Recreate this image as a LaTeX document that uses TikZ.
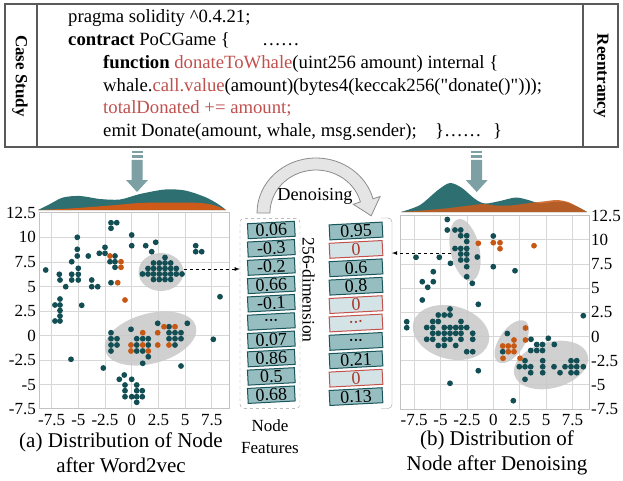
\documentclass[tikz,border=0pt]{standalone}
\usepackage{fontspec}
\setmainfont{Liberation Serif}
\newfontfamily\plainserif{Liberation Serif}[Ligatures=TeXOff]
\usetikzlibrary{positioning,shapes.geometric}

\definecolor{tealdot}{RGB}{18,78,84}
\definecolor{orangedot}{RGB}{198,88,20}
\definecolor{tealarea}{RGB}{46,112,114}
\definecolor{orangearea}{RGB}{205,90,25}
\definecolor{cellfill}{RGB}{150,190,192}
\definecolor{cellline}{RGB}{25,85,90}
\definecolor{zerofill}{RGB}{212,227,230}
\definecolor{zeroline}{RGB}{196,82,76}
\definecolor{zerotext}{RGB}{165,55,45}
\definecolor{codered}{RGB}{192,80,77}
\definecolor{gridgray}{RGB}{215,215,215}
\definecolor{framegray}{RGB}{195,195,195}
\definecolor{blobgray}{RGB}{200,200,200}
\definecolor{arrowgray}{RGB}{125,160,165}

\newcommand{\celldots}{{\fontsize{9}{9}\selectfont\textbullet\,\textbullet\,\textbullet}}

\tikzset{
  codetxt/.style={anchor=base west, inner sep=0, font=\fontsize{18.7}{22}\selectfont},
  sidetxt/.style={rotate=-90, inner sep=0, font=\fontsize{17}{20}\selectfont\bfseries},
  tick/.style={inner sep=0, font=\fontsize{17}{20}\selectfont},
  captxt/.style={align=center, inner sep=0, font=\fontsize{21}{25}\selectfont},
  cell/.style={draw=cellline, fill=cellfill, line width=1pt, minimum width=47pt,
    minimum height=15pt, inner sep=0, rotate=3, font=\fontsize{18}{18}\selectfont},
  zero/.style={cell, draw=zeroline, fill=zerofill, text=zerotext},
  blob/.style={ellipse, fill=blobgray, fill opacity=.85, inner sep=0},
  dashy/.style={->, dashed, thick},
  gridline/.style={draw=gridgray, line width=.8pt}
}

\begin{document}
\begin{tikzpicture}[x=1pt, y=-1pt, >=latex]
\useasboundingbox (0,0) rectangle (623,481);

% code box
\draw[black!65, line width=1.2pt] (5,4) rectangle (618,147);
\draw[black!65, line width=1.2pt] (37,4) -- (37,147) (583,4) -- (583,147);
\node[sidetxt] (cs) at (20,76) {Case Study};
\node[sidetxt] (re) at (601,76) {Reentrancy};
\node[codetxt] (c1) at (68,23) {pragma solidity \textasciicircum 0.4.21;};
\node[codetxt] (c2) at (68,45.7) {\textbf{contract} PoCGame \{};
\node[codetxt] (c2b) at (262,45.7) {……};
\node[codetxt] (c3) at (103,68.4) {\textbf{function} \textcolor{codered}{donateToWhale}(uint256 amount) internal \{};
\node[codetxt] (c4) at (103,91.1) {whale.\textcolor{codered}{call.value}(amount)(bytes4(keccak256({\plainserif"}donate(){\plainserif"})));};
\node[codetxt] (c5) at (103,113.8) {\textcolor{codered}{totalDonated += amount;}};
\node[codetxt] (c6) at (103,136.5) {emit Donate(amount, whale, msg.sender);};
\node[codetxt] (c6b) at (435,136.5) {\}……};
\node[codetxt] (c6c) at (493,136.5) {\}};

% block arrows
\foreach \ax in {137,476.7} {
  \fill[arrowgray] (\ax-5.5,151.5) rectangle (\ax+5.5,153.2);
  \fill[arrowgray] (\ax-5.5,155) rectangle (\ax+5.5,158);
  \fill[arrowgray] (\ax-5.5,160) -- (\ax+5.5,160) -- (\ax+5.5,180) -- (\ax+11,180)
    -- (\ax,192) -- (\ax-11,180) -- (\ax-5.5,180) -- cycle;
}

% densities
\fill[tealarea] plot[smooth] coordinates {(38,210) (50,204) (63,197.5) (80,196) (100,199)
  (120,199.5) (140,194) (165,189.5) (185,190.5) (205,197) (218,204) (226,210)} -- cycle;
\fill[orangearea] plot[smooth] coordinates {(38,210) (70,208.5) (110,205.5) (140,203)
  (170,202.5) (200,203) (215,205.5) (226,210)} -- cycle;
\fill[tealarea] plot[smooth] coordinates {(401,212) (420,205) (438,190) (450,183) (462,188)
  (475,199) (485,203.5) (500,201) (516,197.5) (530,200.5) (540,203.5) (552,202) (565,202)
  (578,207) (587,212)} -- cycle;
\fill[orangearea, fill opacity=.85] plot[smooth] coordinates {(401,212) (440,209) (470,205.5)
  (484,204) (495,205.5) (510,205.5) (530,203) (547,201) (557,200) (568,202) (578,207)
  (587,212)} -- cycle;

% left plot
\foreach \v in {-7.5,-5,-2.5,0,2.5,5,7.5}
  \draw[gridline] ({131.7+10.67*\v},212) -- ({131.7+10.67*\v},408.5);
\foreach \v in {-5,-2.5,0,2.5,5,7.5,10}
  \draw[gridline] (39,{335.7-9.83*\v}) -- (229,{335.7-9.83*\v});
\draw[framegray, line width=.8pt] (39,212) rectangle (229,408.5);
\foreach \v [count=\i] in {-7.5,-5,-2.5,0,2.5,5,7.5}
  \node[tick] (lx\i) at ({131.7+10.67*\v},420) {\v};
\foreach \v [count=\i] in {-7.5,-5,-2.5,0,2.5,5,7.5,10,12.5}
  \node[tick, anchor=east] (ly\i) at (36,{335.7-9.83*\v}) {\v};

\node[blob, minimum width=45pt, minimum height=38pt] (ca) at (161,272) {};
\node[blob, minimum width=94pt, minimum height=50pt, rotate=15] (cb) at (150.5,338.5) {};

\foreach \x/\y in {45.7/270, 59.3/274.3, 60/280, 65.7/286.7, 60/299, 55/305, 60/305, 60/310.5,
  60/316, 55/321, 60/321, 77.3/237.3, 77.3/249.3, 77.3/256, 71.7/261.7, 78.3/268.3, 71.7/274.3,
  78.3/274.3, 71.7/280, 78.3/280, 71/359.3, 81.7/305.3, 88.3/256, 91.7/280, 91.7/286.7,
  97.7/286.7, 99.3/253.3, 105/253.3, 105/247.3, 103.3/368, 111/222.7, 116.7/222.7, 111/228.3,
  115/256, 110/261.7, 115/261.7, 115/267.3, 111/282.7, 131.7/235, 131.7/245.7, 145.7/245.7,
  151.7/251.7, 155.7/242.3, 195.7/245.7, 195.7/251.7, 201.7/251.7, 220/296.7, 213.3/339.3,
  165/257.5, 153.5/263, 159.3/263, 165/263, 170.7/263, 148/268.5, 153.5/268.5, 159.3/268.5,
  165/268.5, 170.7/268.5, 176.3/268.5, 142.5/274, 148/274, 153.5/274, 159.3/274, 165/274,
  170.7/274, 176.3/274, 182/274, 153.5/279.5, 159.3/279.5, 165/279.5, 170.7/279.5,
  157.7/323.3, 169/326.7, 187.3/323.3, 131/329.3, 169/332.7, 175/332.7, 181/332.7, 111/332.7,
  111/338.7, 117/338.7, 136.7/338.7, 142.7/338.7, 148.3/338.7, 169/338.7, 175/338.7, 181/338.7,
  111/345, 117/345, 136.7/345, 148.3/345, 175/345, 111/351, 136.7/351, 142.7/351, 148.3/356.7,
  142.7/363.3, 181/366, 119.3/379.3, 124.3/375, 131.7/379.3, 125/385, 136.7/385, 125/390.7,
  136.7/390.7, 142.3/390.7, 125/396.7, 131.7/396.7, 136.7/396.7, 142.3/396.7, 136.7/402.3}
  \fill[tealdot] (\x,\y) circle (2.9);
\foreach \x/\y in {110/256, 121/261.7, 121/267.3, 117.7/282.7, 125/300, 164/326.7, 175/326.7,
  142.7/332.7, 157.7/332.7, 131/345, 142.7/345, 157.7/345, 169/345, 131/351, 148.3/351}
  \fill[orangedot] (\x,\y) circle (2.9);

% right plot
\foreach \v in {-7.5,-5,-2.5,0,2.5,5,7.5}
  \draw[gridline] ({493.3+10.56*\v},215) -- ({493.3+10.56*\v},409);
\foreach \v in {-5,-2.5,0,2.5,5,7.5,10}
  \draw[gridline] (400,{336.5-9.67*\v}) -- (589,{336.5-9.67*\v});
\draw[framegray, line width=.8pt] (400,215) rectangle (589,409);
\foreach \v [count=\i] in {-7.5,-5,-2.5,0,2.5,5,7.5}
  \node[tick] (rx\i) at ({493.3+10.56*\v},420) {\v};
\foreach \v [count=\i] in {-7.5,-5,-2.5,0,2.5,5,7.5,10,12.5}
  \node[tick, anchor=west] (ry\i) at (591,{336.5-9.67*\v}) {\v};

\node[blob, minimum width=29pt, minimum height=63pt, rotate=12] (cc) at (465,250) {};
\node[blob, minimum width=78pt, minimum height=53pt, rotate=-15] (cd) at (451,332.5) {};
\node[blob, minimum width=49pt, minimum height=25pt, rotate=56] (ce) at (511.7,341.7) {};
\node[blob, minimum width=76pt, minimum height=46pt, rotate=15] (cf) at (551,365) {};

\foreach \x/\y in {447.3/219.5, 447.3/230, 455/230, 460.7/230, 460.7/235.7, 466.7/235.7,
  466.7/241.5, 455/248.5, 460.7/248.5, 466.7/248.5, 460.7/254, 466.7/254, 477.3/257, 460.7/260,
  466.7/260, 450.5/263.3, 466.7/266.7, 466.7/276.7, 472.3/283.3,
  416/257.3, 439.3/257.3, 433.3/271.7, 422.3/281.7, 433.3/281.7, 427.7/287.3, 422.3/300,
  450/383.3, 478.3/370.7, 493.3/236, 493.3/266.7, 515/270.7, 583.3/315.7, 513.3/400.7,
  478.3/304.3, 406.7/321.7, 406.7/327.7,
  450/309, 438.3/315, 444.3/315, 450/315, 432.7/321.5, 438.3/321.5, 461/321.5,
  426.7/327.5, 432.7/327.5, 444.3/327.5, 450/327.5, 455.7/327.5, 461/327.5, 466.7/327.5,
  432.7/333.3, 438.3/333.3, 444.3/333.3, 450/333.3, 455.7/333.3, 461/333.3, 472.7/333.3,
  426.7/339.3, 432.7/339.3, 444.3/339.3, 450/339.3, 461/339.3, 472.7/339.3,
  438.3/345.5, 444.3/345.5, 455.7/345.5, 466.7/351.7, 472.7/351.7,
  507.3/333.5, 502.7/351.7,
  531/339.3, 548.3/338.3, 536.7/344.5, 542.5/344.5, 554.3/344.5, 530.7/350.5, 536.7/350.5,
  542.5/350.5, 525/360.7, 542.7/360.7, 571/360.7, 576.7/360.7,
  519.3/366.7, 525/366.7, 530.7/366.7, 542.7/366.7, 554/366.7, 565/366.7, 571/366.7,
  576.7/366.7, 583.3/366.7, 530.7/372.7, 542.7/372.7, 560/372.7, 571/372.7, 576.7/372.7,
  525/379.3}
  \fill[tealdot] (\x,\y) circle (2.9);
\foreach \x/\y in {478.3/243.3, 493.3/242.7, 500/242.7, 500/248.7, 534/245.7, 525.5/328,
  514/340, 525.5/340, 502.7/346, 508.3/346, 514/346, 508.3/351.7, 514/351.7, 503/358.3,
  520/358.3}
  \fill[orangedot] (\x,\y) circle (2.9);

% feature vectors
\node[draw=black!40, dashed, rounded corners=4pt, minimum width=60pt, minimum height=190pt,
  inner sep=0] (lfeat) at (270,313.3) {};
\foreach \v [count=\i] in {0.06,-0.3,-0.2,0.66,-0.1,\celldots,0.07,0.86,0.5,0.68}
  \node[cell] (L\i) at (271.3,{230+18.3*(\i-1)}) {\v};
\draw[black!40, rounded corners=4pt] (381,218) -- (392,218) -- (392,408.5) -- (381,408.5);
\coordinate (rfeat) at (392,249);
\foreach \v/\s [count=\i] in {0.95/cell, 0/zero, 0.6/cell, 0.8/cell, 0/zero, \celldots/zero,
  \celldots/cell, 0.21/cell, 0/zero, 0.13/cell}
  \node[\s, minimum width=53pt] (R\i) at (356,{231+18.4*(\i-1)}) {\v};
\node[rotate=-90, inner sep=0, font=\fontsize{17.5}{20}\selectfont] (dim) at (308.5,290) {256-dimension};

\draw[dashy] ([yshift=3pt]ca.east) -- ([yshift=3pt]ca.east -| lfeat.west);
\draw[dashy] (cc.west) -- (cc.west -| rfeat);

% denoising arrow
\filldraw[fill=black!10, draw=black!45, line width=.8pt] (257,213)
  arc[start angle=180, end angle=345, x radius=59, y radius=55]
  -- (380.1,196.5) -- (371.2,215.8) -- (353.3,204.3) -- (360.4,201.9)
  arc[start angle=345, end angle=180, x radius=46, y radius=43] -- cycle;
\node[inner sep=0, font=\fontsize{18.3}{20}\selectfont] (dn) at (315,196) {Denoising};

% captions
\node[tick] (nf1) at (270,426) {Node};
\node[tick] (nf2) at (270,448) {Features};
\node[captxt] (capa) at (121,453) {(a) Distribution of Node\\after Word2vec};
\node[captxt] (capb) at (497,453) {(b) Distribution of\\Node after Denoising};
\end{tikzpicture}
\end{document}
